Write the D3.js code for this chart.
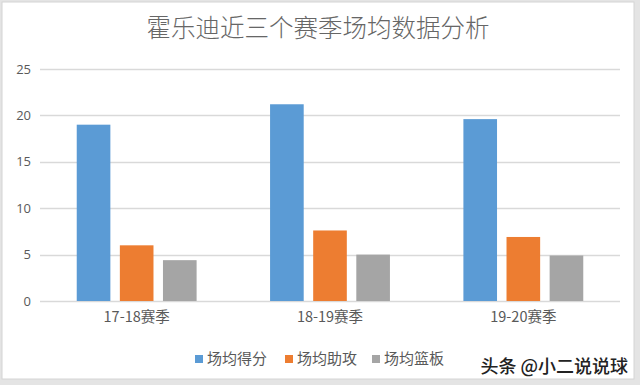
<!DOCTYPE html>
<html>
<head>
<meta charset="utf-8">
<script src="https://cdn.jsdelivr.net/npm/d3@7"></script>
<style>
  body { margin: 0; background: #fff; }
  svg { display: block; }
  text { font-family: "Noto Sans CJK SC", "Noto Sans", sans-serif; }
</style>
</head>
<body>
<svg width="640" height="385"></svg>
<script>
// chart data
var seasons = ["17-18赛季", "18-19赛季", "19-20赛季"];
var seriesNames = ["场均得分", "场均助攻", "场均篮板"];
var points = [19.0, 21.2, 19.6];
var assists = [6.0, 7.6, 6.9];
var rebounds = [4.4, 5.0, 4.9];
var yTicks = [0, 5, 10, 15, 20, 25];
var colors = ["#5B9BD5", "#ED7D31", "#A5A5A5"];

var svg = d3.select("svg"),
    width = +svg.attr("width"),
    height = +svg.attr("height");

// outer frame
svg.append("rect").attr("width", width).attr("height", height).attr("fill", "#e4e4e4");
svg.append("rect").attr("x", 2).attr("y", 2).attr("width", 632).attr("height", 377)
    .attr("fill", "#fff").attr("stroke", "#d4d4d4");

var plot = { left: 40, right: 620, top: 69, bottom: 301 };

var rows = seasons.map(function(s, i) {
    return { season: s, values: [points[i], assists[i], rebounds[i]] };
});

var x0 = d3.scaleBand().domain(seasons).range([plot.left, plot.right])
    .paddingInner(0.38).paddingOuter(0.19);
var x1 = d3.scaleBand().domain(d3.range(seriesNames.length)).range([0, x0.bandwidth()])
    .paddingInner(0.22);
var y = d3.scaleLinear().domain([0, 25]).range([plot.bottom, plot.top]);

// title
svg.append("text")
    .attr("x", 318).attr("y", 37)
    .attr("text-anchor", "middle")
    .attr("font-size", 24.5)
    .attr("font-weight", 300)
    .attr("fill", "#666")
    .text("霍乐迪近三个赛季场均数据分析");

// gridlines
svg.append("g").selectAll("line")
    .data(yTicks)
    .enter().append("line")
    .attr("x1", plot.left).attr("x2", plot.right)
    .attr("y1", function(d) { return Math.round(y(d)) + 0.5; })
    .attr("y2", function(d) { return Math.round(y(d)) + 0.5; })
    .attr("stroke", "#d9d9d9")
    .attr("stroke-width", 1.3);

// y labels
var yAxis = svg.append("g")
    .attr("transform", "translate(" + (plot.left - 9) + ",0)")
    .call(d3.axisLeft(y).tickValues(yTicks).tickSize(0).tickPadding(0));
yAxis.select(".domain").remove();
yAxis.selectAll("text")
    .attr("font-size", 13)
    .attr("fill", "#595959")
    .style("font-family", "'Open Sans', 'Noto Sans', sans-serif");

// bars
var group = svg.append("g").selectAll("g")
    .data(rows)
    .enter().append("g")
    .attr("transform", function(d) { return "translate(" + x0(d.season) + ",0)"; });

group.selectAll("rect")
    .data(function(d) { return d.values; })
    .enter().append("rect")
    .attr("x", function(d, i) { return x1(i); })
    .attr("y", function(d) { return y(d); })
    .attr("width", x1.bandwidth())
    .attr("height", function(d) { return y(0) - y(d); })
    .attr("fill", function(d, i) { return colors[i]; });

// x labels
var xAxis = svg.append("g")
    .attr("transform", "translate(0," + (plot.bottom + 6) + ")")
    .call(d3.axisBottom(x0).tickSize(0).tickPadding(0));
xAxis.select(".domain").remove();
xAxis.selectAll("text")
    .attr("dy", "1.0em")
    .attr("font-size", 14.5)
    .attr("fill", "#595959");

// legend
var legendX = [195, 285, 372];
var legend = svg.append("g").selectAll("g")
    .data(seriesNames)
    .enter().append("g")
    .attr("transform", function(d, i) { return "translate(" + legendX[i] + ",359)"; });
legend.append("rect")
    .attr("x", 0).attr("y", -4)
    .attr("width", 8).attr("height", 8)
    .attr("fill", function(d, i) { return colors[i]; });
legend.append("text")
    .attr("x", 12).attr("y", 0)
    .attr("dy", "0.35em")
    .attr("font-size", 15)
    .attr("fill", "#595959")
    .text(function(d) { return d; });

// watermark
svg.append("text")
    .attr("x", 628).attr("y", 367)
    .attr("dy", "0.35em")
    .attr("text-anchor", "end")
    .attr("font-size", 18)
    .attr("font-weight", 500)
    .attr("fill", "#222")
    .text("头条 @小二说说球");
</script>
</body>
</html>
